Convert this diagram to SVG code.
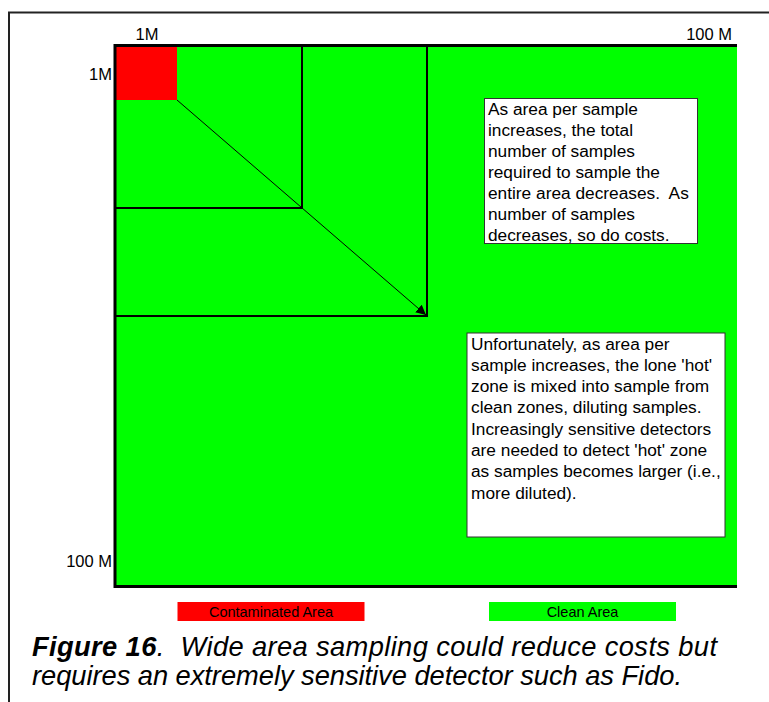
<svg xmlns="http://www.w3.org/2000/svg" width="769" height="702" viewBox="0 0 769 702">
<style>
  text { font-family: "Liberation Sans", Arial, sans-serif; fill: #000; }
  .axis { font-size: 16.5px; }
  .box { fill: #fff; stroke: #333; stroke-width: 1; }
  .note { font-size: 17.3px; }
  .legend { font-size: 14.5px; }
  .cap { font-size: 27.3px; font-style: italic; }
  .grid { fill: none; stroke: #000; stroke-width: 2; }
</style>
<defs>
  <marker id="ah" viewBox="0 0 10 10" refX="10" refY="5" markerWidth="10" markerHeight="10" markerUnits="userSpaceOnUse" orient="auto">
    <path d="M0,0 L10,5 L0,10 z" fill="#000"/>
  </marker>
</defs>
<rect width="769" height="702" fill="#fff"/>
<path d="M9,702 V12.5 H769" fill="none" stroke="#222" stroke-width="2"/>

<g id="plot">
  <rect x="115" y="45.5" width="622" height="541" fill="#00ff00"/>
  <rect x="116" y="47" width="61" height="53" fill="#ff0000"/>
  <path d="M115,45.5 H737 M115,586.5 H737 M115,44 V588" fill="none" stroke="#000" stroke-width="3"/>
</g>
<g id="area-1">
  <path class="grid" d="M302,45 V208 H115"/>
</g>
<g id="area-2">
  <path class="grid" d="M427,45 V316 H115"/>
</g>
<g id="connectors">
  <line x1="177" y1="100" x2="426" y2="315" stroke="#000" stroke-width="1" marker-end="url(#ah)"/>
</g>

<g id="labels">
  <text class="axis" x="147" y="40" text-anchor="middle">1M</text>
  <text class="axis" x="732" y="40" text-anchor="end">100 M</text>
  <text class="axis" x="112" y="80" text-anchor="end">1M</text>
  <text class="axis" x="112" y="567" text-anchor="end">100 M</text>
</g>

<g id="note-1">
  <rect class="box" x="484.5" y="98.5" width="213" height="145"/>
  <text class="note" xml:space="preserve"><tspan x="488" y="115">As area per sample</tspan><tspan x="488" y="136">increases, the total</tspan><tspan x="488" y="157">number of samples</tspan><tspan x="488" y="178">required to sample the</tspan><tspan x="488" y="199">entire area decreases.  As</tspan><tspan x="488" y="220">number of samples</tspan><tspan x="488" y="241">decreases, so do costs.</tspan></text>
</g>

<g id="note-2">
  <rect class="box" x="467" y="333" width="258" height="204"/>
  <text class="note"><tspan x="471" y="349.5">Unfortunately, as area per</tspan><tspan x="471" y="370.8">sample increases, the lone 'hot'</tspan><tspan x="471" y="392.1">zone is mixed into sample from</tspan><tspan x="471" y="413.4">clean zones, diluting samples.</tspan><tspan x="471" y="434.7">Increasingly sensitive detectors</tspan><tspan x="471" y="456">are needed to detect 'hot' zone</tspan><tspan x="471" y="477.3">as samples becomes larger (i.e.,</tspan><tspan x="471" y="498.6">more diluted).</tspan></text>
</g>

<g id="legend-contaminated">
  <rect x="177.5" y="602" width="187" height="19" fill="#ff0000"/>
  <text class="legend" x="271" y="616.5" text-anchor="middle">Contaminated Area</text>
</g>
<g id="legend-clean">
  <rect x="489" y="602" width="187" height="19" fill="#00ff00"/>
  <text class="legend" x="582.5" y="616.5" text-anchor="middle">Clean Area</text>
</g>

<g id="caption">
  <text class="cap" xml:space="preserve" x="32" y="656" textLength="685" lengthAdjust="spacing"><tspan font-weight="bold">Figure 16</tspan>.  Wide area sampling could reduce costs but</text>
  <text class="cap" x="32" y="685" textLength="650" lengthAdjust="spacing">requires an extremely sensitive detector such as Fido.</text>
</g>
</svg>
